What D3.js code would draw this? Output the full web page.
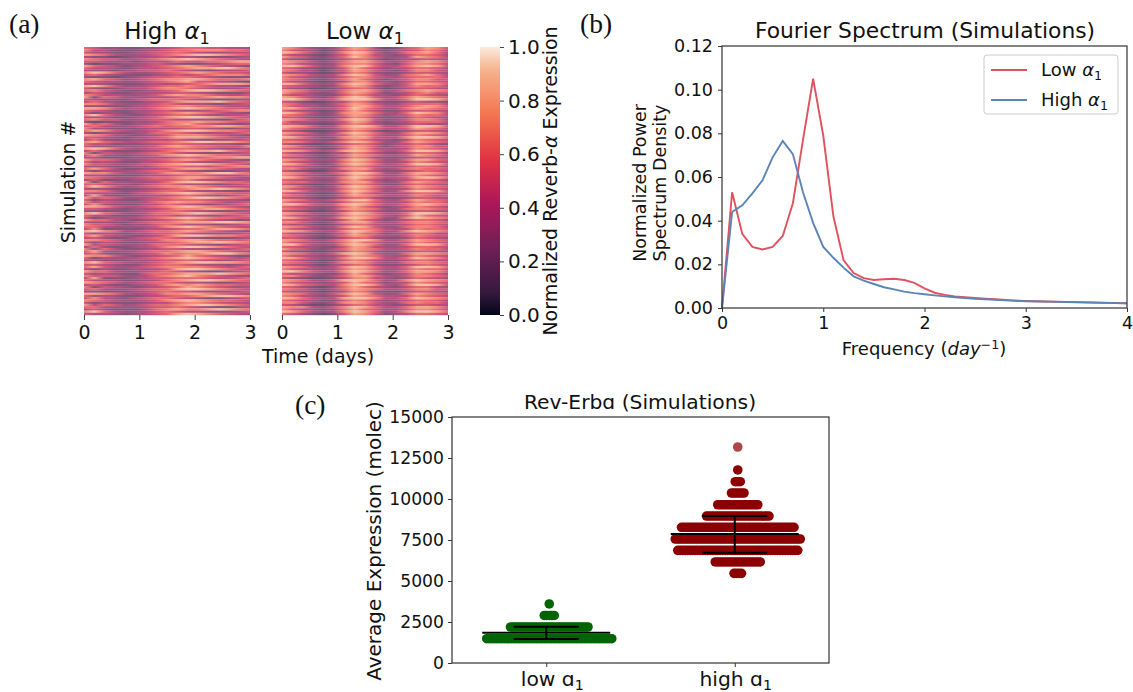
<!DOCTYPE html>
<html><head><meta charset="utf-8">
<script src="https://cdnjs.cloudflare.com/ajax/libs/d3/7.8.5/d3.min.js"></script>
<style>
html,body{margin:0;padding:0;background:#fff}
text{font-family:"DejaVu Sans",sans-serif;fill:#111}
.panel{font-family:"Liberation Serif",serif;font-size:27.5px}
</style></head><body><svg id="c" width="1133" height="692"></svg>
<script>
// ---- heatmap data: one string per simulation, one digit (tenths of expression) per time point
const timePoints=[0,0.1875,0.375,0.5625,0.75,0.9375,1.125,1.3125,1.5,1.6875,1.875,2.0625,2.25,2.4375,2.625,2.8125,3];
const highRows=[
"65332233456655443","74422234566777665","53322345565433344","87643345678998765","42212334544322234","76553456789876543","55433234465566788","31223345432234566","86542345678765432","64432344567889976",
"43323455654323445","79864334567876554","56432223454567776","32212345566543222","78653456778876667","65443345678554321","44322234345678887","89753345667654432","53223446776543345","67542234568998765",
"35422334455432224","76443345787765445","82653334456678776","54332456665432233","46432234578889765","77643345654432345","33222345677665443","88753446789876554","65422334543345677","52332345678765332",
"79643234566543445","44422345789987654","67553345544332256","31222334677877655","85642345678654323","56433456566778876","73322234445543234","68754345789987765","42332346665434456","87643234577765432",
"55432345688876544","36322334454323345","78654456678998876","64422234565544323","53333345787665557","89864345566543234","46322234678889765","72543456654322345","57432345789876654","34222334456567788",
"86653345678765432","63432244565433456","75543456789987654","43322335665545677","68642234578876543","52433456654322234","87753345787789976","44322234456654445","76543456678876543","35222345567543334",
"82643334689987665","56433245654432345","69753456778765444","43322234567889876","77642345665433223","54432456789876655","38322334456543456","85653345678998765","62432245566654432","74543346787765345",
"47322234654323456","88754456789876543","55432334577788765","33222345665432234","79653346678987654","64422245545433456","52343456789876655","86643234567654323","43322456678889987","75542335654432345",
"66433345789876544","37222234456678876","89763456678765432","53432345565433345","68543234689987765","45322456654322234","77653345778876656","52432234567889876","84543346665432345","36322345789987654",
"73642234554433456","58433456678876543","46322345767789976","87753234568654322","62433456789876545","34222334556543345","79654345678998876","55432245665433234","68543456777765456","42322334589987654",
"86643345654322345","53432256678889876","75553346789765433","38222345566654456","64432234678998765","87653456654432234","45322345787876655","72543234568765434","56433456689987654","33222345655433345",
"88764345778876543","63432234566789987","47432456654322345","76543345789876654","52322234467765443","84653456678998765","66433345565432234","35322246787789876","79643345654433345","54432345689876543"];
const lowRows=[
"87532368741256875","75431257632345764","98642479852367863","64321358743246653","86532469753348764","53211246631234543","87642468864357875","76432367753257764","99753479964468985","65321258642346653",
"76431358753247754","53321247632235543","87643479853367864","75432357754356664","76532468642457755","64321247743246654","98643479864358875","65432368742357664","53211246631235543","87643368863467876",
"86532368752346755","64432257643246543","87532479853468765","99754589974469986","54211347632235432","76432468753356664","75432358864457875","88643469753368765","64321258642245543","98642378864369874",
"76532368753457664","55321247632236543","87643479853357763","74432358742346664","65321257642235433","98753479974469985","86532368764458764","54211247631235543","87642479864368875","75432458753357654",
"98642378854479986","65432257643247654","77643579863368765","53211246642346532","87532368752457755","65431258743347654","98754589864469986","64321347642246653","76532468764458764","54321247632235543",
"87643479863368865","75432368753347654","98642479864469985","65432257643346653","77532478853467665","53211347642235654","87643579974368875","76432258753357654","98643479864458986","65432368642346653",
"76643478853368765","53211247642246543","87532479864468765","75432368753347654","98643479863479985","64321258643346654","76532368764457655","54321246632235543","87643579964368765","75432257753347664",
"99754589864468976","65432368642347653","76532478763367765","53211247642235543","87643479864469986","75432368764358654","98643589863379876","65432258642346653","77532478853467765","53321246643346654",
"87643479853367764","75432357764347665","98754479864479876","64321358652346643","76532468754357655","55321246632236543","87643579974468765","75432368653347654","99643479863369985","65432258743346654",
"86532468764457664","53211247642235543","87643589853368876","75432358764347654","98643479974469875","65321257642246643","76532478753367765","54321346632235654","87643479864469986","75432368753357664",
"99754479863468875","64432258642347653","77532468864357765","53211247743236543","87643589863479876","75432358652347654","98654479974369985","65321368643246643","76532468764457755","54321247632235543",
"87643579853368765","76432358764447654","98643489974469876","65432257642346653","77532478753367664","54211246643235543","87743579864468875","75432368653357764","98643479863479986","65321258752346654"];
const colorTicks=[0,0.2,0.4,0.6,0.8,1];
const rocketStops=["#03051a","#35193e","#701f57","#ad1759","#e13342","#f37651","#f6b48f","#faebdd"];
const rocketPos=[0,0.083,0.25,0.417,0.583,0.75,0.917,1];
// ---- spectrum
const freqs=[0,0.1,0.2,0.3,0.4,0.5,0.6,0.7,0.8,0.9,1,1.1,1.2,1.3,1.4,1.5,1.6,1.7,1.8,1.9,2,2.1,2.2,2.3,2.4,2.5,2.6,2.7,2.8,2.9,3,3.2,3.5,4];
const lowSpectrum=[0,0.053,0.034,0.028,0.0268,0.028,0.033,0.048,0.077,0.105,0.079,0.042,0.022,0.016,0.0137,0.0128,0.0132,0.0134,0.0128,0.0115,0.009,0.007,0.006,0.0053,0.005,0.0046,0.0043,0.004,0.0037,0.0034,0.0032,0.003,0.0027,0.0022];
const highSpectrum=[0,0.044,0.047,0.0525,0.0585,0.069,0.0765,0.0705,0.053,0.039,0.028,0.023,0.0185,0.0145,0.0125,0.011,0.0095,0.0085,0.0075,0.0068,0.0063,0.0058,0.0053,0.0049,0.0046,0.0042,0.004,0.0037,0.0035,0.0033,0.0031,0.0029,0.0026,0.0021];
const freqTicks=[0,1,2,3,4];
const powerTicks=[0,0.02,0.04,0.06,0.08,0.1,0.12];
// ---- swarm
const categories=["low","high"];
const lowLevels=[3600,2900,2195,1480];
const lowCounts=[1,5,32,51];
const highLevels=[13170,11770,11055,10366,9650,8960,8275,7560,6870,6160,5465];
const highCounts=[1,1,3,6,17,26,46,51,49,19,4];
const lowStats=[1850,2215,1465];
const highStats=[7870,8960,6730];
const exprTicks=[0,2500,5000,7500,10000,12500,15000];

const svg=d3.select("#c");
const defs=svg.append("defs");
const rocket=d3.scaleLinear().domain(rocketPos).range(rocketStops).interpolate(d3.interpolateRgb);
defs.append("filter").attr("id","vb").attr("x","0").attr("width","1").attr("y","0").attr("height","1")
  .append("feGaussianBlur").attr("stdDeviation","0 0.25").attr("edgeMode","duplicate");

function mtext(sel,parts,size){
  parts.forEach(p=>{
    const t=sel.append("tspan").text(p[0]);
    if(p[1]==="i")t.style("font-style","italic");
    if(p[1]==="s")t.attr("dy",size*0.2).style("font-size",(size*0.7)+"px");
    if(p[1]==="u")t.attr("dy",-size*0.35).style("font-size",(size*0.7)+"px");
    if(p[1]==="x")t.attr("dy",size*0.35);
  });
}
function heat(rows,x0,x1,id,title){
  const y0=47,y1=315;
  const x=d3.scaleLinear().domain([0,3]).range([x0,x1]);
  const y=d3.scaleBand().domain(d3.range(rows.length)).range([y0,y1]);
  const g=svg.append("g").attr("filter","url(#vb)").attr("opacity",0.76);
  rows.forEach((r,i)=>{
    const gr=defs.append("linearGradient").attr("id",id+i);
    timePoints.forEach((t,j)=>gr.append("stop")
      .attr("offset",(x(t)-x0)/(x1-x0)).attr("stop-color",rocket(+r[j]/10)));
    g.append("rect").attr("x",x0).attr("width",x1-x0).attr("y",y(i)).attr("height",y.bandwidth()+0.2).attr("fill",`url(#${id}${i})`);
  });
  const ax=svg.append("g").attr("transform",`translate(0,${y1})`).call(d3.axisBottom(x).tickValues([0,1,2,3]).tickFormat(d3.format("d")).tickSize(5).tickPadding(6));
  ax.select(".domain").remove();
  ax.selectAll("line").attr("stroke","#444");
  ax.selectAll("text").style("font-size","19px").attr("fill","#111");
  const t=svg.append("text").attr("x",(x0+x1)/2).attr("y",39).attr("text-anchor","middle").style("font-size","23px");
  mtext(t,[[title+" "],["α","i"],["1","s"]],23);
}
heat(highRows,84,250,"h","High");
heat(lowRows,282,448,"l","Low");
svg.append("text").attr("class","panel").attr("x",9).attr("y",33).text("(a)");
svg.append("text").attr("class","panel").attr("x",580).attr("y",33).text("(b)");
svg.append("text").attr("class","panel").attr("x",295).attr("y",414).text("(c)");
svg.append("text").attr("transform","translate(75,182) rotate(-90)").attr("text-anchor","middle").style("font-size","18.9px").text("Simulation #");
svg.append("text").attr("x",318).attr("y",363).attr("text-anchor","middle").style("font-size","19px").text("Time (days)");

// colorbar
const cy=d3.scaleLinear().domain([0,1]).range([315,47]);
const cg=defs.append("linearGradient").attr("id","cb").attr("x1",0).attr("x2",0).attr("y1",1).attr("y2",0);
rocketPos.forEach((p,i)=>cg.append("stop").attr("offset",p).attr("stop-color",rocketStops[i]));
svg.append("rect").attr("x",480).attr("y",47).attr("width",20).attr("height",268).attr("fill","url(#cb)");
const ca=svg.append("g").attr("transform","translate(500,0)").call(d3.axisRight(cy).tickValues(colorTicks).tickFormat(d3.format(".1f")).tickSize(4).tickPadding(4));
ca.select(".domain").remove();ca.selectAll("line").attr("stroke","#444");
ca.selectAll("text").style("font-size","20px");
const cl=svg.append("text").attr("transform","translate(557,181) rotate(-90)").attr("text-anchor","middle").style("font-size","19px");
mtext(cl,[["Normalized Reverb-"],["α","i"],[" Expression"]],19);

function frame(l,t,r,b){svg.append("rect").attr("x",l).attr("y",t).attr("width",r-l).attr("height",b-t).attr("fill","none").attr("stroke","#333").attr("stroke-width",1.2);}
// spectrum
const fx=d3.scaleLinear().domain([0,4]).range([722,1127]);
const fy=d3.scaleLinear().domain([0,0.12]).range([308,46]);
const fline=s=>d3.line().x((d,i)=>fx(freqs[i])).y(d=>fy(d))(s);
svg.append("path").attr("d",fline(lowSpectrum)).attr("fill","none").attr("stroke","#e0525e").attr("stroke-width",1.9);
svg.append("path").attr("d",fline(highSpectrum)).attr("fill","none").attr("stroke","#5a85b5").attr("stroke-width",1.9);
frame(722,46,1127,308);
const fa=svg.append("g").attr("transform","translate(0,308)").call(d3.axisBottom(fx).tickValues(freqTicks).tickFormat(d3.format("d")).tickSize(4).tickPadding(5));
const fb=svg.append("g").attr("transform","translate(722,0)").call(d3.axisLeft(fy).tickValues(powerTicks).tickFormat(d3.format(".2f")).tickSize(4).tickPadding(5));
[fa,fb].forEach(a=>{a.select(".domain").remove();a.selectAll("line").attr("stroke","#333");a.selectAll("text").style("font-size","17.5px");});
svg.append("text").attr("x",925).attr("y",38).attr("text-anchor","middle").style("font-size","21.8px").text("Fourier Spectrum (Simulations)");
const fl=svg.append("text").attr("x",924).attr("y",355).attr("text-anchor","middle").style("font-size","18px");
mtext(fl,[["Frequency ("],["day","i"],["−1","u"],[")","x"]],18);
svg.append("text").attr("transform","translate(646,183) rotate(-90)").attr("text-anchor","middle").style("font-size","17.5px").text("Normalized Power");
svg.append("text").attr("transform","translate(666,183) rotate(-90)").attr("text-anchor","middle").style("font-size","17.5px").text("Spectrum Density");
svg.append("rect").attr("x",984).attr("y",55).attr("width",134).attr("height",59).attr("rx",3).attr("fill","#fff").attr("stroke","#ccc");
[["Low","#e0525e",70],["High","#5a85b5",100]].forEach(d=>{
  svg.append("line").attr("x1",991).attr("x2",1027).attr("y1",d[2]).attr("y2",d[2]).attr("stroke",d[1]).attr("stroke-width",1.9);
  const t=svg.append("text").attr("x",1041).attr("y",d[2]+6).style("font-size","18px");
  mtext(t,[[d[0]+" "],["α","i"],["1","s"]],18);
});

// swarm
const sx=d3.scalePoint().domain(categories).range([452,829]).padding(0.5);
const sy=d3.scaleLinear().domain([0,15000]).range([663,417]);
const spacing=2.5,nudge=3;
function swarm(cat,levels,counts,color,stats){
  const cx=sx(cat)+nudge;
  levels.forEach((v,i)=>{
    const n=counts[i];
    d3.range(n).forEach(k=>svg.append("circle").attr("cx",cx+(k-(n-1)/2)*spacing).attr("cy",sy(v)).attr("r",4.8).attr("fill",color).attr("opacity",n===1&&v>13000?0.72:1));
  });
  const c=sx(cat);
  const hl=(v,w,sw)=>svg.append("line").attr("x1",c-w).attr("x2",c+w).attr("y1",sy(v)).attr("y2",sy(v)).attr("stroke","#000").attr("stroke-width",sw);
  hl(stats[0],64,2);hl(stats[1],32.5,2);hl(stats[2],32.5,2);
  svg.append("line").attr("x1",c).attr("x2",c).attr("y1",sy(stats[1])).attr("y2",sy(stats[2])).attr("stroke","#000").attr("stroke-width",2);
}
swarm("low",lowLevels,lowCounts,"#006400",lowStats);
swarm("high",highLevels,highCounts,"#8b0000",highStats);
frame(452,417,829,663);
const sa=svg.append("g").attr("transform","translate(0,663)").call(d3.axisBottom(sx).tickFormat(()=>"").tickSize(4));
const sb=svg.append("g").attr("transform","translate(452,0)").call(d3.axisLeft(sy).tickValues(exprTicks).tickFormat(d3.format("d")).tickSize(4).tickPadding(4));
[sa,sb].forEach(a=>{a.select(".domain").remove();a.selectAll("line").attr("stroke","#333");a.selectAll("text").style("font-size","17.2px");});
categories.forEach((c,i)=>{
  const t=svg.append("text").attr("x",sx(c)+(i?1:6)).attr("y",686).attr("text-anchor","middle").style("font-size","20.3px");
  mtext(t,[[c+" ɑ"],["1","s"]],20.3);
});
svg.append("text").attr("x",640).attr("y",409).attr("text-anchor","middle").style("font-size","20.3px").text("Rev-Erbɑ (Simulations)");
svg.append("text").attr("transform","translate(381,541) rotate(-90)").attr("text-anchor","middle").style("font-size","20px").text("Average Expression (molec)");
</script></body></html>
